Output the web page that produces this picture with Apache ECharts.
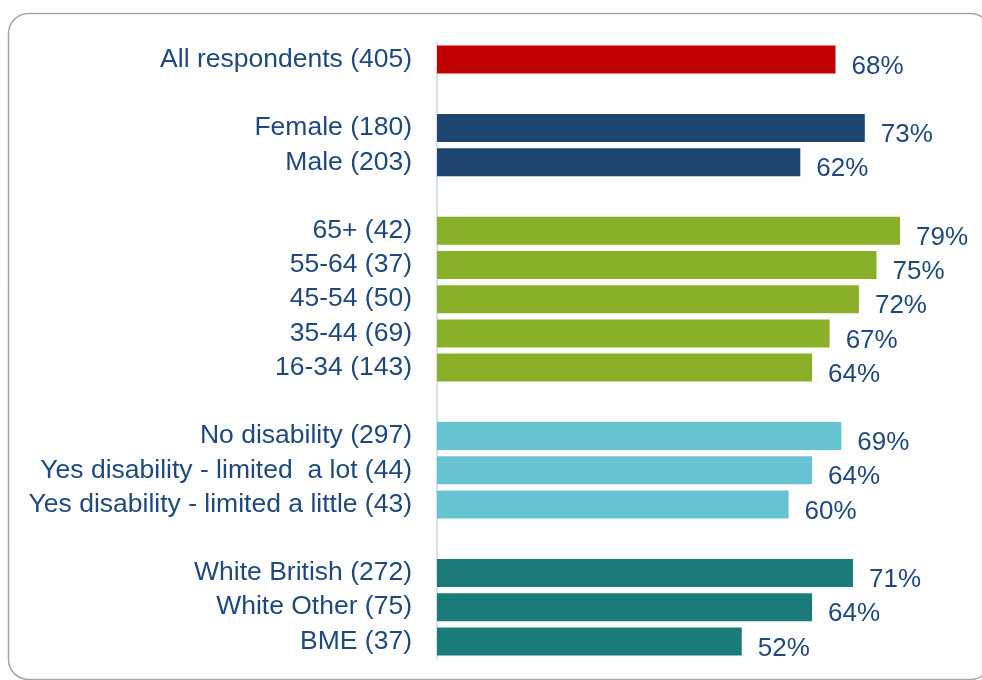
<!DOCTYPE html>
<html>
<head>
<meta charset="utf-8">
<script src="https://cdn.jsdelivr.net/npm/echarts@6/dist/echarts.min.js"></script>
<style>
  html, body { margin: 0; padding: 0; background: #ffffff; }
  #chart { width: 982px; height: 680px; }
</style>
</head>
<body>
<div id="chart"></div>
<script>
// Share of respondents, by group (sample size in brackets)
const allLabels = ['All respondents (405)'];
const allValues = [68];

const genderLabels = ['Female (180)', 'Male (203)'];
const genderValues = [73, 62];

const ageLabels = ['65+ (42)', '55-64 (37)', '45-54 (50)', '35-44 (69)', '16-34 (143)'];
const ageValues = [79, 75, 72, 67, 64];

const disabilityLabels = ['No disability (297)', 'Yes disability - limited  a lot (44)', 'Yes disability - limited a little (43)'];
const disabilityValues = [69, 64, 60];

const ethnicityLabels = ['White British (272)', 'White Other (75)', 'BME (37)'];
const ethnicityValues = [71, 64, 52];

const groupColors = ['#C00000', '#1F4670', '#8AB02A', '#66C3D1', '#1A7B78'];

const groups = [
  [allLabels, allValues],
  [genderLabels, genderValues],
  [ageLabels, ageValues],
  [disabilityLabels, disabilityValues],
  [ethnicityLabels, ethnicityValues]
];

// Flatten groups into one category list with blank spacer rows between them
const categories = [];
const barData = [];
groups.forEach(([labels, values], g) => {
  if (g > 0) { categories.push(''); barData.push('-'); }
  labels.forEach((lab, i) => {
    categories.push(lab);
    barData.push({ value: values[i], itemStyle: { color: groupColors[g] } });
  });
});

const textColor = '#1F497D';
const fontFamily = '"Liberation Sans", Arial, sans-serif';

const chart = echarts.init(document.getElementById('chart'));
chart.setOption({
  animation: false,
  backgroundColor: '#ffffff',
  graphic: [{
    type: 'rect',
    shape: { x: 8.5, y: 13.5, width: 982, height: 666, r: 20 },
    style: { fill: 'none', stroke: '#A6A6A6', lineWidth: 1.5 },
    z: -1
  }],
  grid: { left: 437, top: 42.5, right: 0, height: 616 },
  xAxis: {
    type: 'value', min: 0, max: 93, show: false
  },
  yAxis: {
    type: 'category',
    data: categories,
    inverse: true,
    axisLine: { show: true, lineStyle: { color: '#D3E1F1', width: 2 } },
    axisTick: { show: false },
    axisLabel: {
      interval: 0,
      color: textColor, fontSize: 26.5, fontFamily: fontFamily, margin: 25
    }
  },
  series: [{
    type: 'bar',
    data: barData,
    barWidth: 28,
    label: {
      show: true,
      position: 'right',
      distance: 16,
      offset: [0, 7],
      formatter: '{c}%',
      color: textColor,
      fontSize: 26,
      fontFamily: fontFamily
    }
  }]
});
</script>
</body>
</html>
